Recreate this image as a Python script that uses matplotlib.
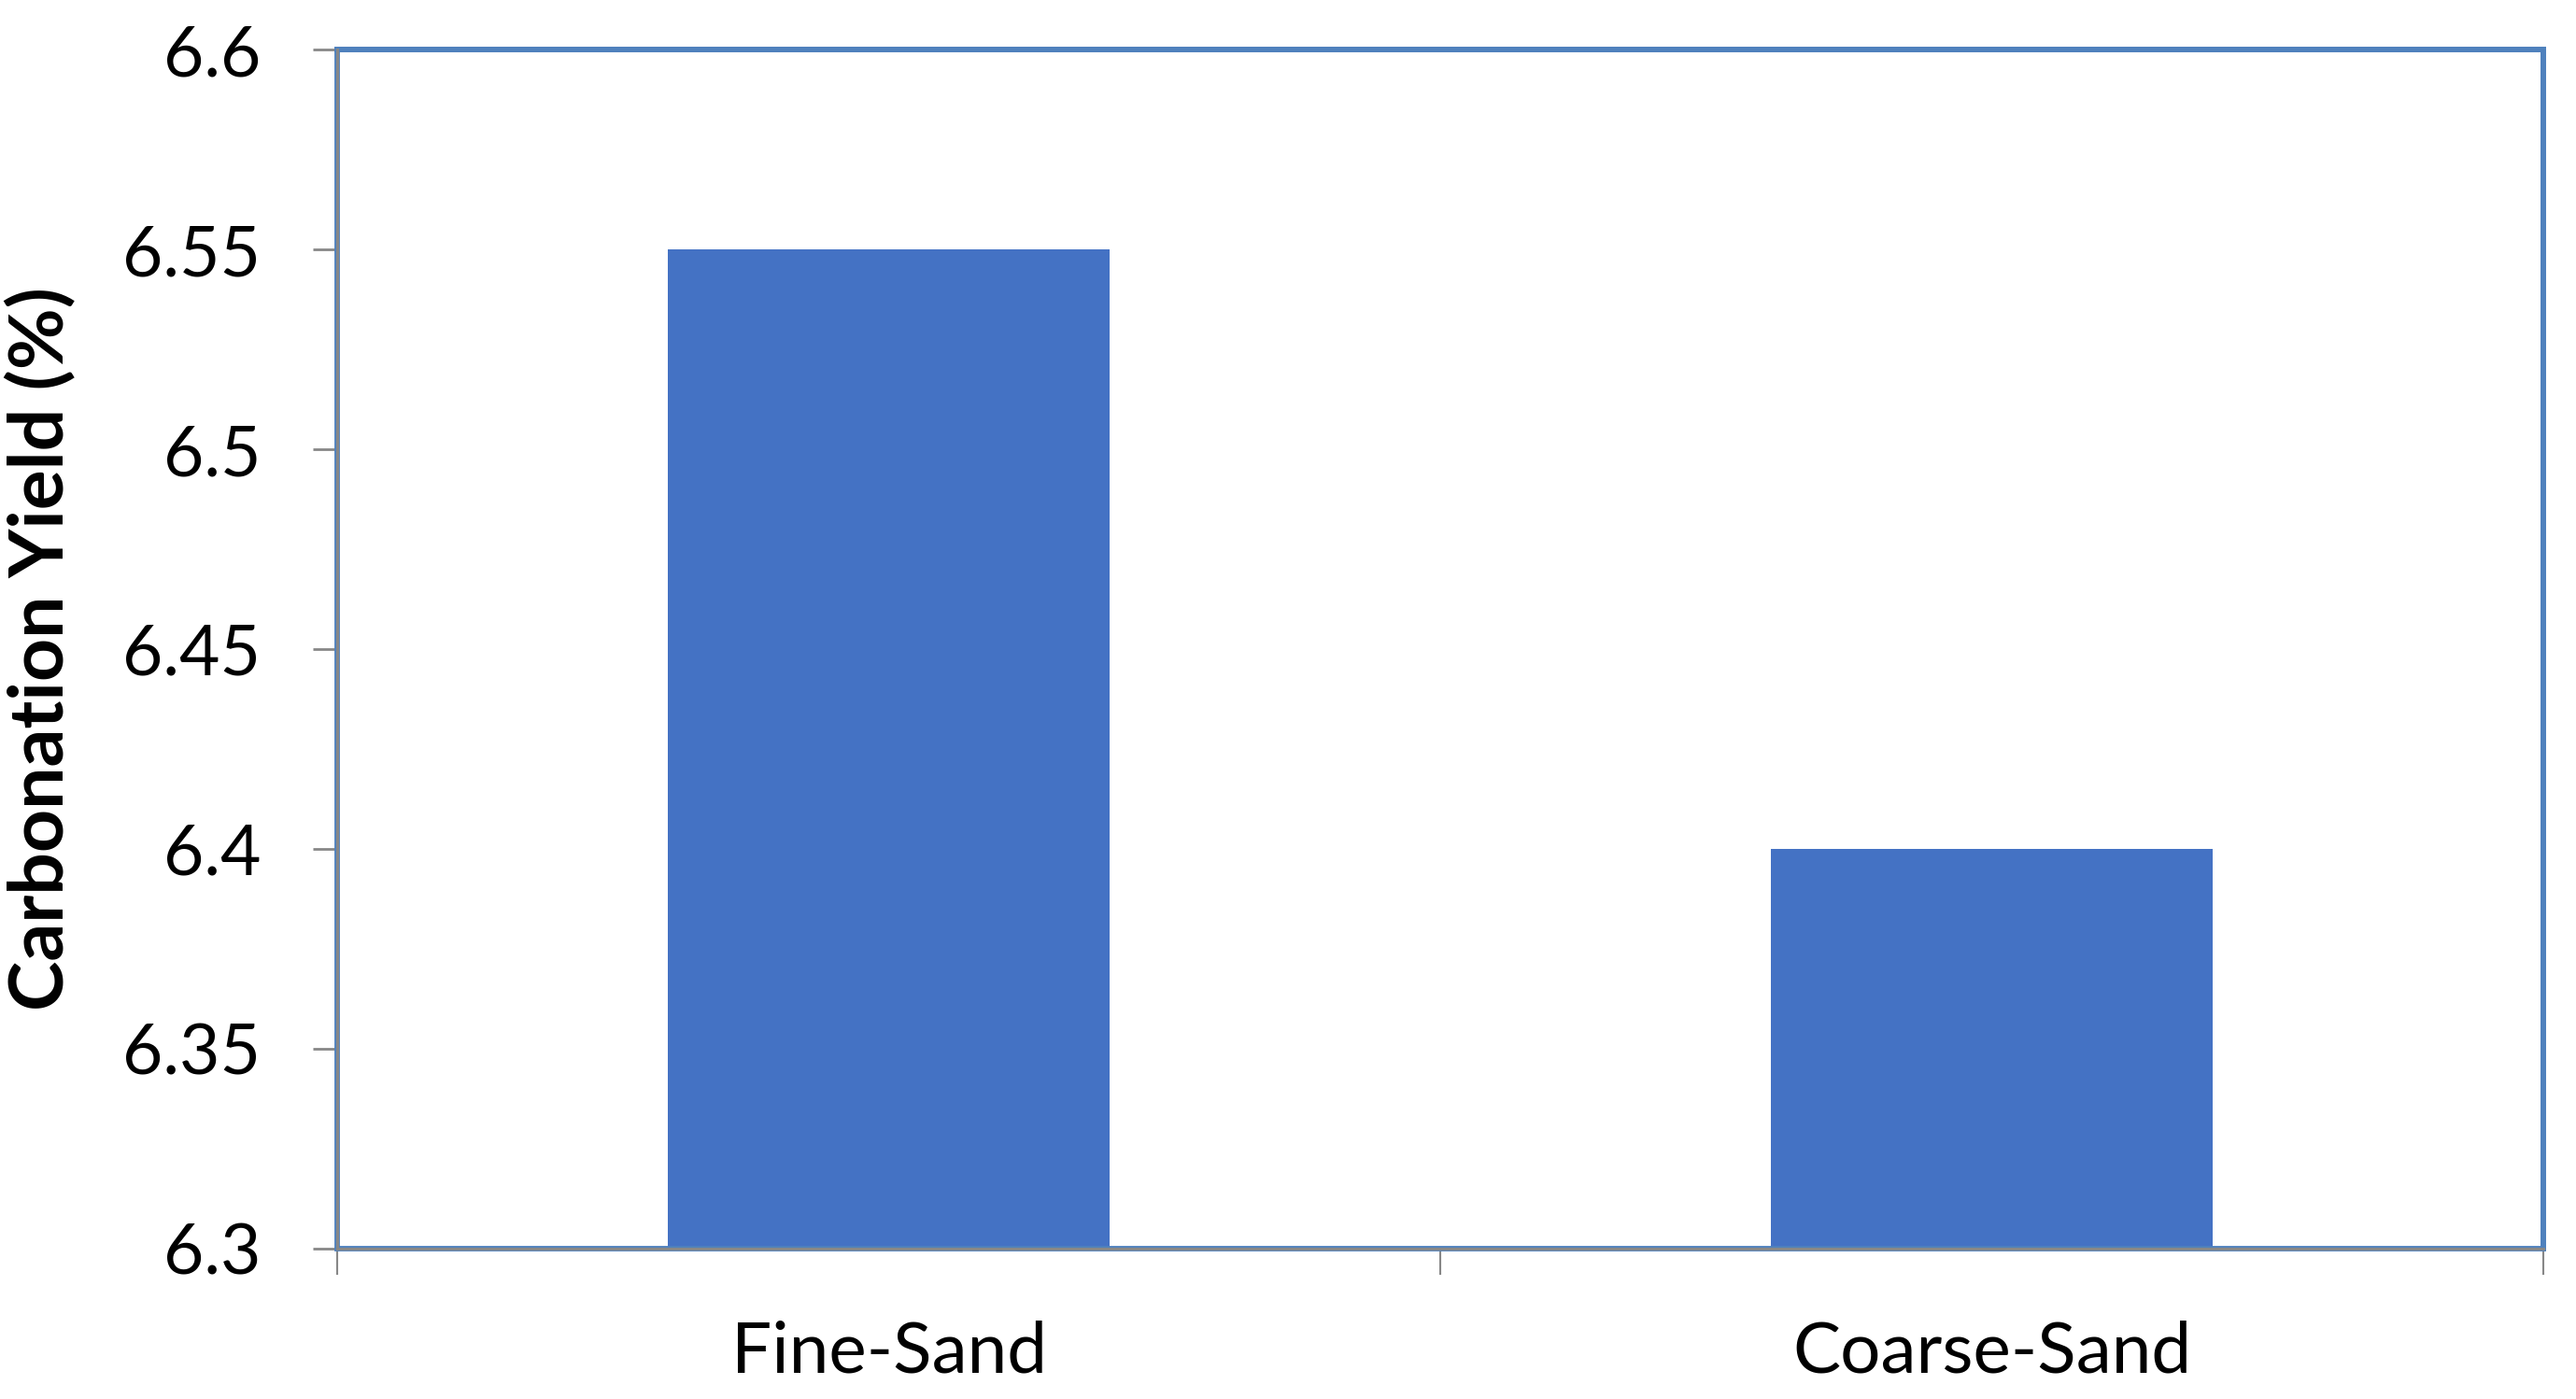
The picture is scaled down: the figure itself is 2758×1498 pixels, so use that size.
import matplotlib.pyplot as plt
from matplotlib.patches import Rectangle

# data
categories = ['Fine-Sand', 'Coarse-Sand']
yield_pct = [6.55, 6.40]
y_ticks = [6.3, 6.35, 6.4, 6.45, 6.5, 6.55, 6.6]
y_tick_labels = ['6.3', '6.35', '6.4', '6.45', '6.5', '6.55', '6.6']

plt.rcParams['font.family'] = ['Lato', 'DejaVu Sans']

fig = plt.figure(figsize=(27.58, 14.98), dpi=100)
ax = fig.add_axes([0.1309, 0.1075, 0.8564, 0.8571])

x = list(range(len(categories)))
ax.bar(x, yield_pct, width=0.4, color='#4472C4', zorder=2)

ax.set_xlim(-0.5, len(categories) - 0.5)
ax.set_ylim(6.3, 6.6)

ax.set_yticks(y_ticks)
ax.set_yticklabels(y_tick_labels, fontsize=54)
ax.set_xticks(x)
ax.set_xticklabels(categories, fontsize=55)
ax.set_xticks([i - 0.5 for i in range(len(categories) + 1)], minor=True)

grey = '#878787'
ax.tick_params(axis='y', which='major', direction='out', length=19, width=2,
               color=grey, pad=40)
ax.tick_params(axis='x', which='major', length=0, pad=55)
ax.tick_params(axis='x', which='minor', direction='out', length=20, width=1.5,
               color=grey)

ax.set_ylabel('Carbonation Yield (%)', fontsize=58, fontweight='bold')
ax.yaxis.set_label_coords(-0.118, 0.5)

# plot area border (blue) plus grey axis lines
for side in ['top', 'right']:
    ax.spines[side].set_color('#4F81BD')
    ax.spines[side].set_linewidth(4.2)
for side in ['left', 'bottom']:
    ax.spines[side].set_color(grey)
    ax.spines[side].set_linewidth(2.2)
    ax.spines[side].set_zorder(4)
border = Rectangle((0, 0), 1, 1, transform=ax.transAxes, fill=False,
                   edgecolor='#4F81BD', linewidth=4.2, clip_on=False, zorder=3)
ax.add_patch(border)

fig.savefig('out.png', dpi=100)
